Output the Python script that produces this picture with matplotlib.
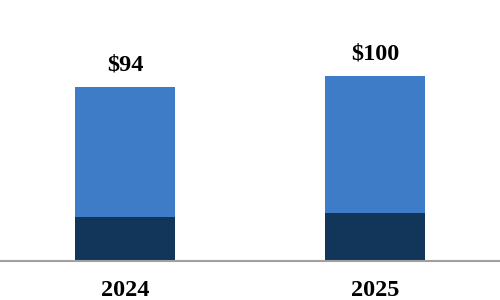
import matplotlib
matplotlib.use("Agg")
import matplotlib.pyplot as plt
import numpy as np

years = ["2024", "2025"]
base_vals = [24, 26]
upper_vals = [70, 74]
totals = ["$94", "$100"]

dark_blue = "#12365a"
light_blue = "#3e7cc8"

plt.rcParams["font.family"] = ["Liberation Serif", "DejaVu Serif"]

fig = plt.figure(figsize=(5, 3), dpi=100)
ax = fig.add_axes([0, 0.13, 1, 0.87])

x = np.arange(len(years))
ax.bar(x, base_vals, width=0.4, color=dark_blue)
ax.bar(x, upper_vals, width=0.4, bottom=base_vals, color=light_blue)

for xi, b, u, lab in zip(x, base_vals, upper_vals, totals):
    ax.annotate(lab, (xi, b + u), xytext=(0, 12), textcoords="offset points",
                ha="center", va="baseline", fontsize=17.5, fontweight="bold")

ax.set_xlim(-0.5, 1.5)
ax.set_ylim(0, 141)
ax.set_xticks(x)
ax.set_xticklabels(years, fontsize=17.5, fontweight="bold")
ax.tick_params(axis="x", length=0, pad=14)
ax.set_yticks([])
for side in ["top", "left", "right"]:
    ax.spines[side].set_visible(False)
ax.spines["bottom"].set_color("#a0a0a0")
ax.spines["bottom"].set_linewidth(1.5)

fig.savefig("out.png", dpi=100)
